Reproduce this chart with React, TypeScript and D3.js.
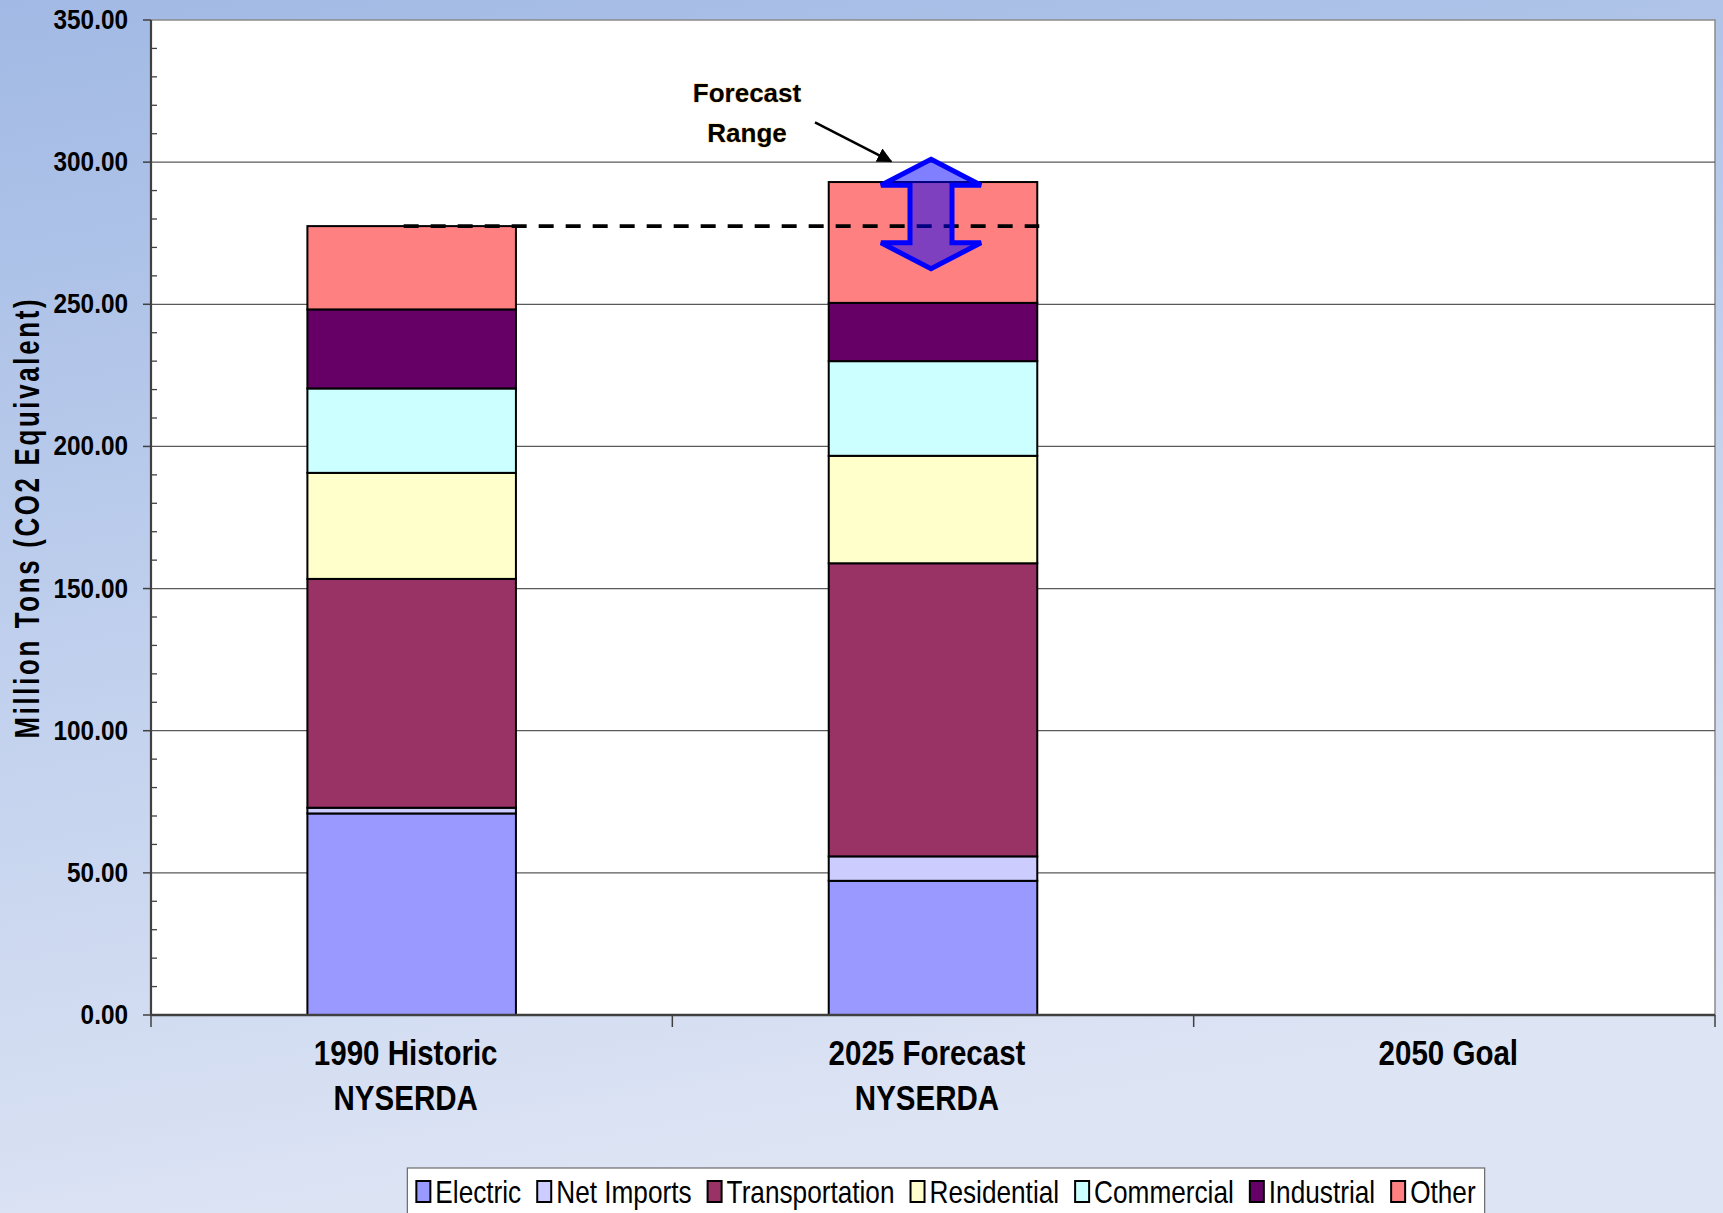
import { useMemo } from 'react';
import * as d3 from 'd3';

// categories on the x axis (\n = second label line)
const categories = ['1990 Historic\nNYSERDA', '2025 Forecast\nNYSERDA', '2050 Goal'];
const sectors = ['Electric', 'Net Imports', 'Transportation', 'Residential', 'Commercial', 'Industrial', 'Other'];

// million tons CO2e, one value per category
const electric       = [70.9, 47.2, 0];
const netImports     = [2.0, 8.6, 0];
const transportation = [80.5, 103.1, 0];
const residential    = [37.3, 37.8, 0];
const commercial     = [29.7, 33.3, 0];
const industrial     = [27.8, 20.5, 0];
const other          = [29.3, 42.5, 0];

const yTicks = [0, 50, 100, 150, 200, 250, 300, 350];
const forecastRange = [262.5, 301]; // low, high of the 2025 forecast

const COLORS = ['#9999ff', '#ccccff', '#993366', '#ffffcc', '#ccffff', '#660066', '#ff8080'];

const W = 1723, H = 1213;
const M = { left: 151, right: 1715, top: 20, bottom: 1015 };
const FONT = "'Liberation Sans', Arial, sans-serif";

export default function App() {
  const y = d3.scaleLinear().domain([0, 350]).range([M.bottom, M.top]);
  const x = d3.scaleBand<string>().domain(categories).range([M.left, M.right]).padding(0);
  const bw = x.bandwidth() * 0.4;
  const cx = (c: string) => (x(c) ?? 0) + x.bandwidth() / 2;

  const series = [electric, netImports, transportation, residential, commercial, industrial, other];
  const rows = categories.map((c, i) => {
    const r: Record<string, number | string> = { cat: c };
    sectors.forEach((s, k) => { r[s] = series[k][i]; });
    return r;
  });
  const stacked = d3.stack<Record<string, number | string>>().keys(sectors)(rows as any);

  const minor = d3.range(0, 351, 10).filter(v => v % 50 !== 0);

  // legend layout from measured text widths
  const legend = useMemo(() => {
    const ctx = document.createElement('canvas').getContext('2d')!;
    ctx.font = `31px ${FONT}`;
    const sx = 0.845, sw = 14, pad = 9, gap = 16, tgap = 5;
    const items = sectors.map(s => ({ s, tw: ctx.measureText(s).width * sx }));
    const total = pad * 2 + items.reduce((a, it) => a + sw + tgap + it.tw, 0) + gap * (items.length - 1);
    let pos = 946 - total / 2 + pad;
    const placed = items.map(it => { const p = { ...it, x: pos }; pos += sw + tgap + it.tw + gap; return p; });
    return { placed, left: 946 - total / 2, width: total, sx, sw, tgap };
  }, []);

  const baseTotal = sectors.reduce((a, _, k) => a + series[k][0], 0);
  const c1 = cx(categories[1]);
  const ax = c1 - 2;
  const top = y(forecastRange[1]), bot = y(forecastRange[0]);
  const hw = 50, sh = 21, hh = 26;
  const arrowPath = `M${ax},${top} L${ax + hw},${top + hh} L${ax + sh},${top + hh} L${ax + sh},${bot - hh} L${ax + hw},${bot - hh} L${ax},${bot} L${ax - hw},${bot - hh} L${ax - sh},${bot - hh} L${ax - sh},${top + hh} L${ax - hw},${top + hh} Z`;

  return (
    <svg width={W} height={H} style={{ position: 'absolute', left: 0, top: 0, display: 'block' }} fontFamily={FONT}>
      <defs>
        <linearGradient id="bg" x1="0" y1="0" x2="0.25" y2="1">
          <stop offset="0" stopColor="#a1b9e4" />
          <stop offset="0.45" stopColor="#bccdec" />
          <stop offset="1" stopColor="#dde4f4" />
        </linearGradient>
        <marker id="ah" viewBox="0 0 10 10" refX="9" refY="5" markerWidth="6" markerHeight="6" orient="auto">
          <path d="M0,0 L10,5 L0,10 Z" fill="#000" />
        </marker>
      </defs>
      <rect width={W} height={H} fill="url(#bg)" />

      {/* plot area */}
      <rect x={M.left} y={M.top} width={M.right - M.left} height={M.bottom - M.top} fill="#fff" stroke="#8a8a8a" strokeWidth={1.5} />
      {yTicks.filter(t => t > 0 && t < 350).map(t => (
        <line key={t} x1={M.left} x2={M.right} y1={y(t)} y2={y(t)} stroke="#5a5a5a" strokeWidth={1.3} />
      ))}

      {/* stacked bars */}
      {stacked.map((layer, k) => (
        <g key={layer.key} fill={COLORS[k]} stroke="#000" strokeWidth={2}>
          {layer.map((d, i) => {
            const h = y(d[0]) - y(d[1]);
            if (h <= 0) return null;
            return <rect key={i} x={cx(categories[i]) - bw / 2} y={y(d[1])} width={bw} height={h} />;
          })}
        </g>
      ))}

      {/* y axis */}
      <line x1={M.left} x2={M.left} y1={M.top} y2={M.bottom} stroke="#404040" strokeWidth={2.2} />
      {yTicks.map(t => (
        <g key={t}>
          <line x1={M.left - 8} x2={M.left} y1={y(t)} y2={y(t)} stroke="#404040" strokeWidth={1.5} />
          <text transform={`translate(128,${y(t) + 9}) scale(0.87,1)`} textAnchor="end" fontSize={28} fontWeight="bold" fill="#000">
            {t.toFixed(2)}
          </text>
        </g>
      ))}
      {minor.map(t => (
        <line key={t} x1={M.left} x2={M.left + 6} y1={y(t)} y2={y(t)} stroke="#404040" strokeWidth={1.3} />
      ))}
      <text transform={`translate(27,519) rotate(-90) scale(0.72,1)`} textAnchor="middle" dominantBaseline="central"
        fontSize={36} fontWeight="bold" textLength={610} lengthAdjust="spacing" fill="#000">
        Million Tons (CO2 Equivalent)
      </text>

      {/* x axis */}
      <line x1={M.left} x2={M.right} y1={M.bottom} y2={M.bottom} stroke="#404040" strokeWidth={2.5} />
      {[...categories.map(c => x(c) ?? 0), M.right].map((v, i) => (
        <line key={i} x1={v} x2={v} y1={M.bottom} y2={M.bottom + 12} stroke="#404040" strokeWidth={1.5} />
      ))}
      {categories.map(c => (
        <g key={c}>
          {c.split('\n').map((ln, j) => (
            <text key={j} transform={`translate(${cx(c) - 6},${1065 + j * 45}) scale(0.82,1)`} textAnchor="middle"
              fontSize={36} fontWeight="bold" fill="#000">{ln}</text>
          ))}
        </g>
      ))}

      {/* 1990 reference level */}
      <line x1={cx(categories[0]) - 8} x2={c1 + bw / 2 + 2} y1={y(baseTotal)} y2={y(baseTotal)}
        stroke="#000" strokeWidth={3.8} strokeDasharray="15 12" />

      {/* forecast range arrow */}
      <path d={arrowPath} fill="rgba(0,0,255,0.5)" stroke="#0000ff" strokeWidth={5} strokeLinejoin="miter" />

      {/* annotation */}
      <line x1={c1 - 118} y1={y(314)} x2={c1 - 42} y2={y(300.3)} stroke="#000" strokeWidth={2.5} markerEnd="url(#ah)" />
      {['Forecast', 'Range'].map((t, j) => (
        <text key={t} x={c1 - 186} y={y(321) + j * 40} textAnchor="middle" fontSize={26} fontWeight="bold"
          fill="#000" stroke="#ffe0a0" strokeWidth={1} paintOrder="stroke">{t}</text>
      ))}

      {/* legend */}
      <rect x={legend.left} y={1168} width={legend.width} height={70} fill="#fff" stroke="#6a6a6a" strokeWidth={1.2} />
      {legend.placed.map((it, k) => (
        <g key={it.s}>
          <rect x={it.x} y={1181} width={legend.sw} height={21} fill={COLORS[k]} stroke="#000" strokeWidth={2} />
          <text transform={`translate(${it.x + legend.sw + legend.tgap},1203) scale(${legend.sx},1)`} fontSize={31} fill="#000">{it.s}</text>
        </g>
      ))}
    </svg>
  );
}
